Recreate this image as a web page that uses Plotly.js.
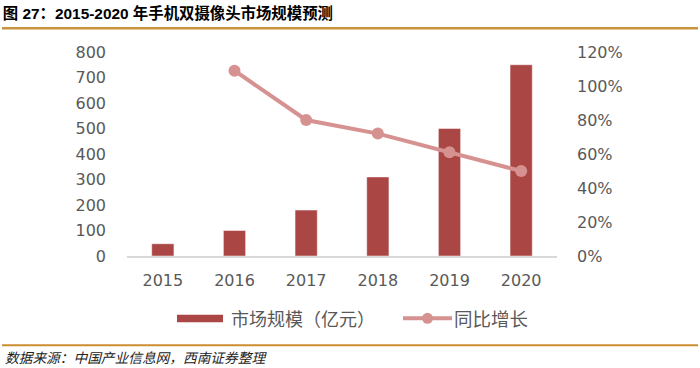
<!DOCTYPE html>
<html>
<head>
<meta charset="utf-8">
<script src="https://cdn.plot.ly/plotly-3.0.1.min.js"></script>
<style>
html,body{margin:0;padding:0;background:#fff;}
#chart{width:700px;height:368px;}
</style>
</head>
<body>
<div id="chart"></div>
<script>
// Data
var years = ['2015', '2016', '2017', '2018', '2019', '2020'];
var marketSize = [48, 100, 180, 310, 500, 750];          // 市场规模（亿元）
var growthYears = ['2016', '2017', '2018', '2019', '2020'];
var growthRate = [1.09, 0.80, 0.72, 0.61, 0.50];          // 同比增长
var leftTicks = [0, 100, 200, 300, 400, 500, 600, 700, 800];
var rightTicks = [0, 0.2, 0.4, 0.6, 0.8, 1.0, 1.2];
var rightTickText = ['0%', '20%', '40%', '60%', '80%', '100%', '120%'];

var titleText = '图 27：2015-2020 年手机双摄像头市场规模预测';
var sourceText = '数据来源：中国产业信息网，西南证券整理';
var barName = '市场规模（亿元）';
var lineName = '同比增长';

var barColor = '#AA4643';
var lineColor = '#D69290';
var tickFont = {family: 'DejaVu Sans, Verdana, sans-serif', size: 16, color: '#595959'};
var cjk = 'Noto Sans CJK SC, sans-serif';

// pixel -> paper helpers (plot area: x 127..557, y 51.7..255.7)
var PL = 127, PW = 430, PB = 255.7, PH = 204;
function px(x) { return (x - PL) / PW; }
function py(y) { return (PB - y) / PH; }

var traces = [
  {
    type: 'bar',
    x: years,
    y: marketSize,
    name: barName,
    width: 0.31,
    marker: {color: barColor, line: {color: 'rgba(255,255,255,0.6)', width: 0.8}},
    yaxis: 'y'
  },
  {
    type: 'scatter',
    mode: 'lines+markers',
    x: growthYears,
    y: growthRate,
    name: lineName,
    yaxis: 'y2',
    line: {color: lineColor, width: 4},
    marker: {color: lineColor, size: 12},
    cliponaxis: false
  }
];

var legendY = 318;

var layout = {
  width: 700,
  height: 368,
  margin: {l: 127, r: 143, t: 52, b: 112, pad: 0},
  paper_bgcolor: '#ffffff',
  plot_bgcolor: '#ffffff',
  showlegend: false,
  title: {
    text: titleText,
    xref: 'container', yref: 'container',
    x: 0.004, xanchor: 'left',
    y: 1 - 14 / 368, yanchor: 'middle',
    font: {family: 'Liberation Sans, ' + cjk, size: 15.4, color: '#000000', weight: 'bold'}
  },
  xaxis: {
    type: 'category',
    tickfont: tickFont,
    showgrid: false,
    zeroline: false,
    showline: true,
    linecolor: '#D9D9D9',
    linewidth: 1.5,
    ticks: '',
    ticklabelstandoff: 9
  },
  yaxis: {
    range: [0, 800],
    tickvals: leftTicks,
    tickfont: tickFont,
    showgrid: false,
    zeroline: false,
    showline: false,
    ticks: '',
    ticklabelstandoff: 20
  },
  yaxis2: {
    range: [0, 1.2],
    overlaying: 'y',
    side: 'right',
    tickvals: rightTicks,
    ticktext: rightTickText,
    tickfont: tickFont,
    showgrid: false,
    zeroline: false,
    showline: false,
    ticks: '',
    ticklabelstandoff: 19
  },
  shapes: [
    // header / footer rules
    {type: 'line', xref: 'paper', yref: 'paper',
     x0: px(2), x1: px(698), y0: py(28), y1: py(28),
     line: {color: '#C9923C', width: 2.5}},
    {type: 'line', xref: 'paper', yref: 'paper',
     x0: px(2), x1: px(698), y0: py(345), y1: py(345),
     line: {color: '#CD8E33', width: 2}},
    // legend: bar swatch
    {type: 'rect', xref: 'paper', yref: 'paper',
     x0: px(177), x1: px(223), y0: py(322), y1: py(314.5),
     fillcolor: barColor, line: {width: 0}},
    // legend: line swatch
    {type: 'line', xref: 'paper', yref: 'paper',
     x0: px(403), x1: px(452), y0: py(legendY), y1: py(legendY),
     line: {color: lineColor, width: 4}},
    {type: 'circle', xref: 'paper', yref: 'paper',
     x0: px(427.5 - 5.5), x1: px(427.5 + 5.5), y0: py(legendY + 5.5), y1: py(legendY - 5.5),
     fillcolor: lineColor, line: {width: 0}}
  ],
  annotations: [
    {text: barName, xref: 'paper', yref: 'paper',
     x: px(229), xanchor: 'left', y: py(legendY), yanchor: 'middle',
     showarrow: false, font: {family: cjk, size: 18, color: '#595959'}},
    {text: lineName, xref: 'paper', yref: 'paper',
     x: px(452), xanchor: 'left', y: py(legendY), yanchor: 'middle',
     showarrow: false, font: {family: cjk, size: 18.5, color: '#595959'}},
    {text: sourceText, xref: 'paper', yref: 'paper',
     x: px(3), xanchor: 'left', y: py(357), yanchor: 'middle',
     showarrow: false,
     font: {family: cjk, size: 13.7, color: '#222222', style: 'italic'}}
  ]
};

Plotly.newPlot('chart', traces, layout, {displayModeBar: false, staticPlot: true});
</script>
</body>
</html>
